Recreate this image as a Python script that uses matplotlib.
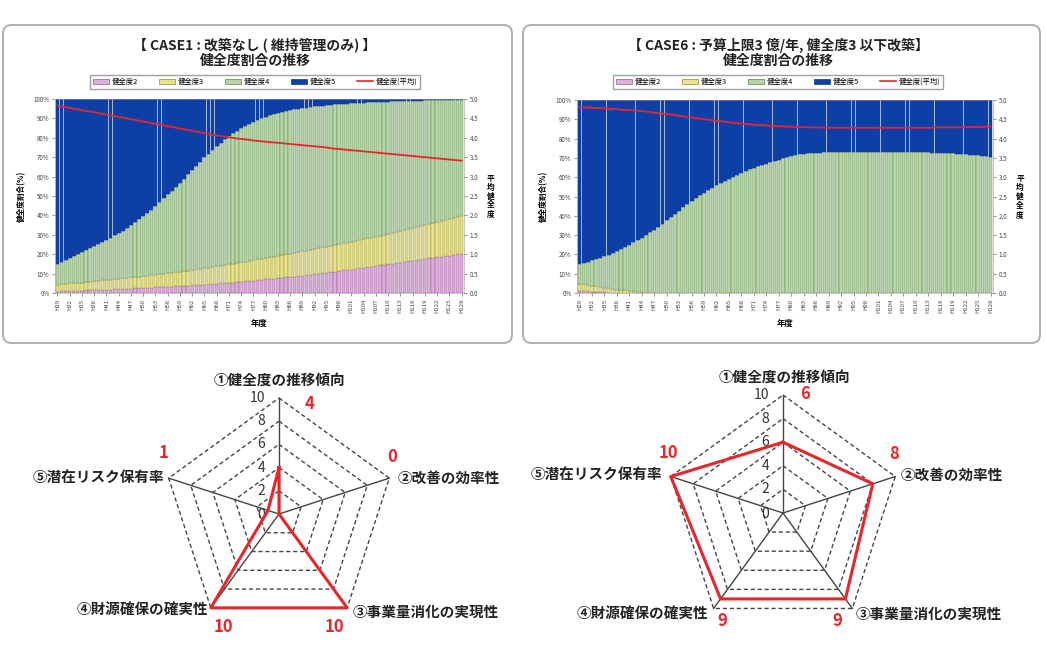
import numpy as np
import matplotlib
matplotlib.use("Agg")
import matplotlib.pyplot as plt
from matplotlib.patches import FancyBboxPatch, Patch
from matplotlib.lines import Line2D

plt.rcParams['font.family'] = ['Noto Sans CJK JP', 'DejaVu Sans']

# ---- data -------------------------------------------------------------
years = [f"H{y}" for y in range(29, 129)]
series_names = ["健全度2", "健全度3", "健全度4", "健全度5"]
avg_name = "健全度(平均)"

# CASE1 (%)
case1_h2 = [
    0.7, 0.8, 0.9, 1.0, 1.0, 1.1, 1.2, 1.3, 1.4, 1.5,
    1.6, 1.7, 1.7, 1.8, 1.9, 2.0, 2.1, 2.2, 2.3, 2.4,
    2.5, 2.6, 2.7, 2.8, 2.9, 3.0, 3.1, 3.2, 3.3, 3.4,
    3.5, 3.6, 3.7, 3.9, 4.0, 4.1, 4.3, 4.4, 4.6, 4.8,
    4.9, 5.1, 5.2, 5.4, 5.6, 5.8, 6.0, 6.2, 6.4, 6.6,
    6.8, 7.0, 7.2, 7.4, 7.6, 7.8, 8.0, 8.3, 8.5, 8.8,
    9.0, 9.3, 9.5, 9.8, 10.0, 10.3, 10.5, 10.8, 11.0, 11.3,
    11.6, 11.9, 12.1, 12.4, 12.7, 13.0, 13.3, 13.6, 13.9, 14.2,
    14.5, 14.8, 15.1, 15.4, 15.7, 16.0, 16.3, 16.6, 16.9, 17.2,
    17.5, 17.8, 18.1, 18.4, 18.7, 19.0, 19.3, 19.6, 19.9, 20.3]
case1_h3 = [
    3.6, 3.7, 3.8, 3.9, 4.0, 4.1, 4.2, 4.3, 4.4, 4.5,
    4.6, 4.8, 4.9, 5.0, 5.1, 5.3, 5.4, 5.5, 5.7, 5.8,
    6.0, 6.1, 6.3, 6.4, 6.6, 6.7, 6.9, 7.0, 7.2, 7.3,
    7.5, 7.7, 7.8, 8.0, 8.2, 8.3, 8.5, 8.7, 8.9, 9.0,
    9.2, 9.4, 9.6, 9.7, 9.9, 10.1, 10.2, 10.4, 10.6, 10.7,
    10.9, 11.1, 11.2, 11.4, 11.6, 11.7, 11.9, 12.0, 12.2, 12.3,
    12.5, 12.6, 12.8, 12.9, 13.1, 13.2, 13.4, 13.5, 13.7, 13.8,
    14.0, 14.1, 14.3, 14.4, 14.6, 14.7, 14.9, 15.0, 15.2, 15.4,
    15.6, 15.8, 16.0, 16.2, 16.4, 16.6, 16.8, 17.0, 17.2, 17.4,
    17.6, 17.8, 18.0, 18.2, 18.4, 18.6, 18.8, 19.0, 19.2, 19.4]
case1_h4 = [
    10.9, 11.7, 12.5, 13.3, 14.2, 15.0, 15.9, 16.8, 17.6, 18.4,
    19.3, 20.0, 20.9, 21.8, 22.8, 23.7, 24.7, 25.9, 27.1, 28.4,
    29.7, 31.1, 32.4, 33.8, 35.3, 37.1, 38.8, 40.6, 42.3, 44.1,
    45.9, 47.7, 49.7, 51.4, 53.3, 55.3, 57.1, 58.8, 60.3, 61.9,
    63.4, 64.8, 66.1, 67.2, 68.1, 68.9, 69.8, 70.5, 71.1, 71.8,
    72.3, 72.7, 73.1, 73.3, 73.5, 73.7, 73.8, 73.9, 73.9, 73.9,
    73.8, 73.7, 73.6, 73.5, 73.3, 73.1, 72.9, 72.7, 72.5, 72.2,
    71.9, 71.6, 71.3, 71.1, 70.7, 70.4, 70.0, 69.7, 69.3, 68.9,
    68.5, 68.1, 67.7, 67.3, 66.8, 66.4, 66.0, 65.5, 65.1, 64.6,
    64.2, 63.7, 63.3, 62.8, 62.4, 61.9, 61.4, 61.0, 60.5, 60.0]
case1_h5 = [
    84.8, 83.8, 82.8, 81.8, 80.8, 79.8, 78.7, 77.6, 76.6, 75.6,
    74.5, 73.5, 72.5, 71.4, 70.2, 69.0, 67.8, 66.4, 64.9, 63.4,
    61.8, 60.2, 58.6, 57.0, 55.2, 53.2, 51.2, 49.2, 47.2, 45.2,
    43.1, 41.0, 38.8, 36.7, 34.5, 32.3, 30.1, 28.1, 26.2, 24.3,
    22.5, 20.7, 19.1, 17.7, 16.4, 15.2, 14.0, 12.9, 11.9, 10.9,
    10.0, 9.2, 8.5, 7.9, 7.3, 6.8, 6.3, 5.8, 5.4, 5.0,
    4.7, 4.4, 4.1, 3.8, 3.6, 3.4, 3.2, 3.0, 2.8, 2.7,
    2.5, 2.4, 2.3, 2.1, 2.0, 1.9, 1.8, 1.7, 1.6, 1.5,
    1.4, 1.3, 1.2, 1.1, 1.1, 1.0, 0.9, 0.9, 0.8, 0.8,
    0.7, 0.7, 0.6, 0.6, 0.5, 0.5, 0.5, 0.4, 0.4, 0.3]
case1_avg = [
    4.83, 4.81, 4.79, 4.77, 4.75, 4.73, 4.71, 4.69, 4.68, 4.66,
    4.64, 4.62, 4.60, 4.58, 4.56, 4.54, 4.52, 4.50, 4.48, 4.46,
    4.44, 4.42, 4.40, 4.38, 4.36, 4.34, 4.32, 4.30, 4.28, 4.26,
    4.24, 4.22, 4.20, 4.18, 4.16, 4.14, 4.12, 4.10, 4.08, 4.06,
    4.05, 4.03, 4.01, 4.00, 3.98, 3.97, 3.96, 3.95, 3.93, 3.92,
    3.91, 3.90, 3.89, 3.88, 3.87, 3.86, 3.85, 3.84, 3.83, 3.82,
    3.81, 3.80, 3.79, 3.78, 3.77, 3.76, 3.75, 3.73, 3.72, 3.71,
    3.70, 3.69, 3.68, 3.67, 3.66, 3.65, 3.64, 3.63, 3.62, 3.61,
    3.60, 3.59, 3.58, 3.57, 3.56, 3.55, 3.54, 3.53, 3.52, 3.51,
    3.50, 3.49, 3.48, 3.47, 3.46, 3.45, 3.44, 3.43, 3.42, 3.41]

# CASE6 (%)
case6_h2 = [
    1.0, 0.9, 0.8, 0.6, 0.5, 0.4, 0.3, 0.2, 0.1, 0,
    0, 0, 0, 0, 0, 0, 0, 0, 0, 0,
    0, 0, 0, 0, 0, 0, 0, 0, 0, 0,
    0, 0, 0, 0, 0, 0, 0, 0, 0, 0,
    0, 0, 0, 0, 0, 0, 0, 0, 0, 0,
    0, 0, 0, 0, 0, 0, 0, 0, 0, 0,
    0, 0, 0, 0, 0, 0, 0, 0, 0, 0,
    0, 0, 0, 0, 0, 0, 0, 0, 0, 0,
    0, 0, 0, 0, 0, 0, 0, 0, 0, 0,
    0, 0, 0, 0, 0, 0, 0, 0, 0, 0]
case6_h3 = [
    3.8, 3.6, 3.4, 3.2, 3.0, 2.8, 2.5, 2.3, 2.1, 1.8,
    1.6, 1.3, 1.1, 0.8, 0.6, 0.3, 0.1, 0, 0, 0,
    0, 0, 0, 0, 0, 0, 0, 0, 0, 0,
    0, 0, 0, 0, 0, 0, 0, 0, 0, 0,
    0, 0, 0, 0, 0, 0, 0, 0, 0, 0,
    0, 0, 0, 0, 0, 0, 0, 0, 0, 0,
    0, 0, 0, 0, 0, 0, 0, 0, 0, 0,
    0, 0, 0, 0, 0, 0, 0, 0, 0, 0,
    0, 0, 0, 0, 0, 0, 0, 0, 0, 0,
    0, 0, 0, 0, 0, 0, 0, 0, 0, 0]
case6_h4 = [
    10.4, 11.2, 12.1, 13.1, 14.1, 15.1, 16.3, 17.4, 18.6, 20.0,
    21.2, 22.6, 23.9, 25.4, 26.8, 28.4, 29.9, 31.4, 32.9, 34.4,
    36.0, 37.6, 39.3, 41.0, 42.7, 44.4, 46.1, 47.7, 49.2, 50.6,
    52.0, 53.3, 54.6, 55.8, 57.0, 58.1, 59.2, 60.3, 61.3, 62.3,
    63.2, 64.0, 64.8, 65.6, 66.3, 67.0, 67.7, 68.4, 69.1, 69.8,
    70.5, 71.0, 71.4, 71.8, 72.1, 72.3, 72.5, 72.6, 72.7, 72.8,
    72.9, 73.0, 73.0, 73.1, 73.1, 73.1, 73.2, 73.2, 73.2, 73.2,
    73.2, 73.2, 73.2, 73.2, 73.1, 73.1, 73.1, 73.0, 73.0, 73.0,
    72.9, 72.9, 72.9, 72.8, 72.8, 72.7, 72.7, 72.6, 72.5, 72.4,
    72.3, 72.2, 72.0, 71.9, 71.7, 71.5, 71.3, 71.1, 70.9, 70.6]
case6_h5 = [
    84.8, 84.3, 83.7, 83.1, 82.4, 81.7, 80.9, 80.1, 79.2, 78.2,
    77.2, 76.1, 75.0, 73.8, 72.6, 71.3, 70.0, 68.6, 67.1, 65.6,
    64.0, 62.4, 60.7, 59.0, 57.3, 55.6, 53.9, 52.3, 50.8, 49.4,
    48.0, 46.7, 45.4, 44.2, 43.0, 41.9, 40.8, 39.7, 38.7, 37.7,
    36.8, 36.0, 35.2, 34.4, 33.7, 33.0, 32.3, 31.6, 30.9, 30.2,
    29.5, 29.0, 28.6, 28.2, 27.9, 27.7, 27.5, 27.4, 27.3, 27.2,
    27.1, 27.0, 27.0, 26.9, 26.9, 26.9, 26.8, 26.8, 26.8, 26.8,
    26.8, 26.8, 26.8, 26.8, 26.9, 26.9, 26.9, 27.0, 27.0, 27.0,
    27.1, 27.1, 27.1, 27.2, 27.2, 27.3, 27.3, 27.4, 27.5, 27.6,
    27.7, 27.8, 28.0, 28.1, 28.3, 28.5, 28.7, 28.9, 29.1, 29.4]
case6_avg = [
    4.81, 4.81, 4.80, 4.80, 4.79, 4.79, 4.78, 4.77, 4.77, 4.76,
    4.75, 4.74, 4.74, 4.73, 4.72, 4.71, 4.70, 4.69, 4.67, 4.66,
    4.65, 4.63, 4.62, 4.61, 4.59, 4.58, 4.56, 4.55, 4.53, 4.52,
    4.50, 4.49, 4.48, 4.46, 4.45, 4.44, 4.42, 4.41, 4.40, 4.39,
    4.38, 4.37, 4.36, 4.35, 4.35, 4.34, 4.33, 4.33, 4.32, 4.32,
    4.31, 4.31, 4.30, 4.30, 4.30, 4.29, 4.29, 4.29, 4.29, 4.28,
    4.28, 4.28, 4.28, 4.28, 4.28, 4.28, 4.28, 4.28, 4.28, 4.28,
    4.28, 4.28, 4.28, 4.28, 4.28, 4.28, 4.28, 4.28, 4.28, 4.28,
    4.28, 4.28, 4.28, 4.28, 4.28, 4.28, 4.29, 4.29, 4.29, 4.29,
    4.29, 4.29, 4.29, 4.30, 4.30, 4.30, 4.30, 4.30, 4.31, 4.31]

# radar charts
radar_axes = ["①健全度の推移傾向", "②改善の効率性", "③事業量消化の実現性",
              "④財源確保の確実性", "⑤潜在リスク保有率"]
radar_case1 = [4, 0, 10, 10, 1]
radar_case6 = [6, 8, 9, 9, 10]
radar_ticks = [0, 2, 4, 6, 8, 10]

# ---- style ------------------------------------------------------------
fills = ["#dcaedc", "#e8e28c", "#b6d6a6", "#0e40a8"]
edges = ["#8c5c8c", "#8a8840", "#5e7e54", "#0b3a9a"]
widths = [0.8, 0.8, 0.8, 0.95]
red = "#e5262b"
W, H = 1046, 672

fig = plt.figure(figsize=(W / 100, H / 100), dpi=100)


def fx(px):
    return px / W


def fy(py):
    return 1 - py / H


def frame(x0, y0, x1, y1):
    fig.patches.append(FancyBboxPatch(
        (fx(x0), fy(y1)), fx(x1 - x0), (y1 - y0) / H,
        boxstyle="round,pad=0,rounding_size=0.008", mutation_aspect=W / H,
        transform=fig.transFigure, fc="none", ec="#b0b0b0", lw=1.4))


def bar_panel(px, title, h2, h3, h4, h5, avg, cx):
    x0, x1, y0, y1 = px
    ax = fig.add_axes([fx(x0), fy(y1), fx(x1 - x0), (y1 - y0) / H])
    x = np.arange(len(years))
    bottom = np.zeros(len(years))
    for vals, fc, ec, w in zip([h2, h3, h4, h5], fills, edges, widths):
        ax.bar(x, vals, bottom=bottom, width=w, color=fc, edgecolor=ec,
               linewidth=0.3)
        bottom += np.array(vals)
    ax.set_xlim(-0.6, len(years) - 0.4)
    ax.set_ylim(0, 100)
    ax.set_yticks(range(0, 101, 10))
    ax.set_yticklabels([f"{v}%" for v in range(0, 101, 10)], fontsize=4.5)
    ax.set_xticks(x[::3])
    ax.set_xticklabels(years[::3], rotation=90, fontsize=4.3)
    ax.tick_params(length=2, width=0.4, colors="#444", pad=2)
    for s in ax.spines.values():
        s.set_linewidth(0.4)
        s.set_color("#999")
    ax.set_ylabel("健全度割合(%)", fontsize=5.5, fontweight="bold", labelpad=5)
    ax.set_xlabel("年度", fontsize=6, fontweight="bold", labelpad=4)

    ax2 = ax.twinx()
    ax2.plot(x, avg, color=red, lw=1.3)
    ax2.set_ylim(0, 5)
    ax2.set_yticks(np.arange(0, 5.01, 0.5))
    ax2.set_yticklabels([f"{v:.1f}" for v in np.arange(0, 5.01, 0.5)], fontsize=4.5)
    ax2.tick_params(length=2, width=0.4, colors="#444", pad=2)
    for s in ax2.spines.values():
        s.set_visible(False)
    ax2.text(1.065, 0.5, "平\n均\n健\n全\n度", transform=ax2.transAxes,
             ha="center", va="center", fontsize=5.5, fontweight="bold",
             linespacing=1.0)

    fig.text(fx(cx), fy(45), title, ha="center", va="center",
             fontsize=10, fontweight="bold", color="#222")
    fig.text(fx(cx), fy(61), "健全度割合の推移", ha="center", va="center",
             fontsize=10, fontweight="bold", color="#222")
    handles = [Patch(facecolor=f, edgecolor=e, lw=0.5) for f, e in zip(fills, edges)]
    handles.append(Line2D([], [], color=red, lw=1.2))
    fig.legend(handles, series_names + [avg_name], loc="center",
               bbox_to_anchor=(fx(cx), fy(82)), ncol=5, fontsize=5.3,
               frameon=True, fancybox=False, edgecolor="#888",
               handlelength=2.2, handleheight=0.7, columnspacing=2.8,
               handletextpad=0.4, borderpad=0.35)


def radar(cx, cy, R, vals, val_off, lab_off):
    ax = fig.add_axes([fx(cx - R), fy(cy + R), fx(2 * R), 2 * R / H],
                      projection="polar")
    ax.set_theta_zero_location("N")
    ax.set_theta_direction(-1)
    ax.set_ylim(0, 10)
    ax.axis("off")
    th = np.deg2rad(np.arange(len(radar_axes)) * 72)
    thc = np.append(th, th[0])
    for r in radar_ticks[1:]:
        ax.plot(thc, [r] * len(thc), color="#444", lw=1.0, ls=(0, (3, 2)),
                clip_on=False)
    for t in th:
        ax.plot([t, t], [0, 10], color="#444", lw=1.0, clip_on=False)
    ax.plot(thc, vals + [vals[0]], color=red, lw=2.2, clip_on=False, zorder=5)
    for r in radar_ticks:
        ax.annotate(str(r), xy=(0, r), xytext=(-10, -1 if r == 0 else 0),
                    textcoords="offset points", ha="right", va="center",
                    fontsize=10, color="#333", annotation_clip=False)
    has = ["center", "left", "left", "right", "right"]
    for t, name, v, vo, lo, ha in zip(th, radar_axes, vals, val_off, lab_off, has):
        ax.annotate(name, xy=(t, 10), xytext=lo, textcoords="offset points",
                    ha=ha, va="center", fontsize=10.5, fontweight="bold",
                    color="#222", annotation_clip=False)
        ax.annotate(str(v), xy=(t, 10), xytext=vo, textcoords="offset points",
                    ha="center", va="center", fontsize=12, fontweight="bold",
                    color=red, annotation_clip=False)


frame(3, 25, 512, 343)
frame(523, 25, 1040, 343)

bar_panel((55, 464, 99, 293), "【 CASE1 : 改築なし ( 維持管理のみ) 】",
          case1_h2, case1_h3, case1_h4, case1_h5, case1_avg, 255)
bar_panel((577, 993, 100, 293), "【 CASE6 : 予算上限3 億/年, 健全度3 以下改築】",
          case6_h2, case6_h3, case6_h4, case6_h5, case6_avg, 778)

radar(279, 514, 116, radar_case1,
      [(22, -4), (2, 15), (-9, -14), (9, -14), (-4, 18)],
      [(0, 13), (6, 0), (4, -3), (-2, -1.5), (-3, 0)])
radar(783, 513, 118, radar_case6,
      [(16, 1), (-1, 16), (-11, -9), (6, -9), (-2, 17)],
      [(1, 13), (4, 1.5), (2, -3.6), (-4, -3.6), (-6, 1.5)])

fig.savefig("out.png", dpi=100, facecolor="white")
